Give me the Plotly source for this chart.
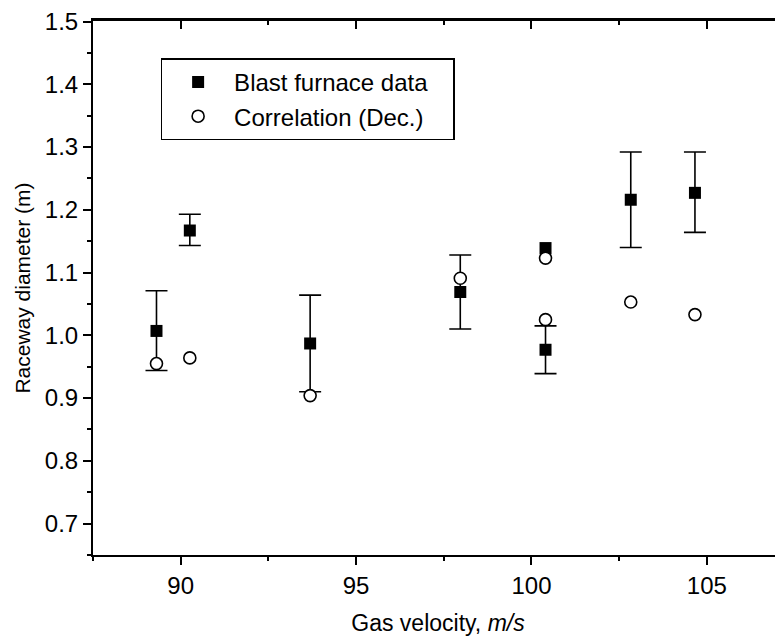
import plotly.graph_objects as go

# Data
gas_velocity = [89.31, 90.26, 93.69, 97.97, 100.40, 100.40, 102.83, 104.66]
blast_furnace = [1.007, 1.167, 0.987, 1.069, 1.139, 0.977, 1.216, 1.227]
err_plus = [0.064, 0.026, 0.077, 0.059, None, 0.038, 0.076, 0.065]
err_minus = [0.063, 0.024, 0.077, 0.059, None, 0.038, 0.076, 0.063]
correlation = [0.955, 0.964, 0.904, 1.091, 1.123, 1.025, 1.053, 1.033]

series_names = ["Blast furnace data", "Correlation (Dec.)"]
x_ticks = [90, 95, 100, 105]
y_ticks = [0.7, 0.8, 0.9, 1.0, 1.1, 1.2, 1.3, 1.4, 1.5]

FONT = "Liberation Sans, Arial, sans-serif"
X_RANGE = [87.5, 107.17]
Y_RANGE = [0.65, 1.5008]
PAD = "\u00a0" * 3  # extra room on the right of the legend box

# points that carry an error bar
has_err = [i for i, e in enumerate(err_plus) if e is not None]

fig = go.Figure()
fig.add_trace(go.Scatter(
    x=[gas_velocity[i] for i in has_err], y=[blast_furnace[i] for i in has_err],
    mode="markers", showlegend=False, hoverinfo="skip",
    marker=dict(size=1, opacity=0),
    error_y=dict(type="data", symmetric=False,
                 array=[err_plus[i] for i in has_err],
                 arrayminus=[err_minus[i] for i in has_err],
                 color="black", thickness=1.6, width=11),
))
fig.add_trace(go.Scatter(
    x=gas_velocity, y=blast_furnace, mode="markers", name=series_names[0] + PAD,
    marker=dict(symbol="square", size=12, color="black", line=dict(width=0)),
))
fig.add_trace(go.Scatter(
    x=gas_velocity, y=correlation, mode="markers", name=series_names[1],
    marker=dict(symbol="circle", size=12, color="white", line=dict(color="black", width=1.6)),
))
# invisible trace to carry the mirrored (inner-tick) axes
fig.add_trace(go.Scatter(
    x=gas_velocity, y=blast_furnace, xaxis="x2", yaxis="y2", mode="markers",
    marker=dict(opacity=0), showlegend=False, hoverinfo="skip",
))

common = dict(color="black", linecolor="black", showgrid=False, zeroline=False,
              tickcolor="black", tickwidth=1.6)

fig.update_layout(
    width=775, height=631,
    margin=dict(l=85, r=0, t=10, b=84),
    paper_bgcolor="white", plot_bgcolor="white",
    font=dict(family=FONT, size=24, color="black"),
    showlegend=True,
    legend=dict(x=0.098, y=0.93, xanchor="left", yanchor="top",
                bordercolor="black", borderwidth=1.5, bgcolor="white",
                font=dict(size=24), itemwidth=62, tracegroupgap=0),
    xaxis=dict(range=X_RANGE, tickvals=x_ticks, ticks="outside", ticklen=8,
               showline=True, linewidth=2,
               minor=dict(dtick=2.5, tick0=90, ticks="outside", ticklen=4, tickcolor="black", tickwidth=1.6),
               title=dict(text="Gas velocity, <i>m/s</i>", standoff=17,
                          font=dict(size=23)),
               tickfont=dict(size=24), **common),
    yaxis=dict(range=Y_RANGE, tickvals=y_ticks, tickformat=".1f", ticks="outside", ticklen=8,
               showline=True, linewidth=2, ticklabeloverflow="allow",
               minor=dict(dtick=0.05, tick0=0.65, ticks="outside", ticklen=4, tickcolor="black", tickwidth=1.6),
               title=dict(text="Raceway diameter (m)", standoff=8, font=dict(size=21)),
               tickfont=dict(size=24), **common),
    xaxis2=dict(range=X_RANGE, overlaying="x", side="top", anchor="y2",
                tickvals=x_ticks, ticks="inside", ticklen=8, showticklabels=False,
                showline=True, linewidth=2.5,
                minor=dict(dtick=2.5, tick0=90, ticks="inside", ticklen=4, tickcolor="black", tickwidth=1.6),
                **common),
    yaxis2=dict(range=Y_RANGE, overlaying="y", side="right", anchor="x2",
                tickvals=y_ticks, ticks="inside", ticklen=7, showticklabels=False,
                showline=False,
                minor=dict(dtick=0.05, tick0=0.65, ticks="inside", ticklen=3, tickcolor="black", tickwidth=1.6),
                **common),
)

fig.write_html("out.html")
